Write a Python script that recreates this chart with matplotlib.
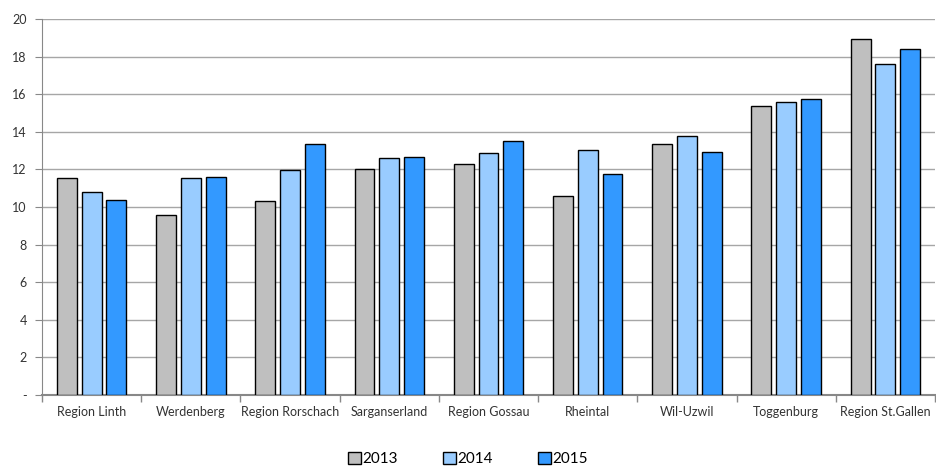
import numpy as np
import matplotlib
matplotlib.use("Agg")
import matplotlib.pyplot as plt

# Data
regions = ["Region Linth", "Werdenberg", "Region Rorschach", "Sarganserland",
           "Region Gossau", "Rheintal", "Wil-Uzwil", "Toggenburg", "Region St.Gallen"]
years = ["2013", "2014", "2015"]
v2013 = [11.56, 9.57, 10.30, 12.02, 12.30, 10.60, 13.33, 15.36, 18.95]
v2014 = [10.78, 11.53, 11.98, 12.62, 12.85, 13.01, 13.78, 15.59, 17.61]
v2015 = [10.36, 11.61, 13.33, 12.68, 13.51, 11.77, 12.91, 15.73, 18.39]
yticks = [0, 2, 4, 6, 8, 10, 12, 14, 16, 18, 20]
ytick_labels = ["-", "2", "4", "6", "8", "10", "12", "14", "16", "18", "20"]

colors = ["#BFBFBF", "#99CCFF", "#3399FF"]

plt.rcParams["font.family"] = ["Lato", "DejaVu Sans"]

fig = plt.figure(figsize=(9.36, 4.67), dpi=100)
ax = fig.add_axes([42 / 936, 1 - 395 / 467, 893 / 936, 376 / 467])

x = np.arange(len(regions))
width = 0.2
step = 0.25
for i, (vals, year) in enumerate(zip([v2013, v2014, v2015], years)):
    ax.bar(x + (i - 1) * step, vals, width, color=colors[i], edgecolor="black",
           linewidth=1.0, label=year, zorder=3)

ax.set_ylim(0, 20)
ax.set_xlim(-0.5, len(regions) - 0.5)
ax.set_yticks(yticks)
ax.set_yticklabels(ytick_labels)
ax.yaxis.grid(True, color="#A6A6A6", linewidth=1.0, zorder=0)
ax.set_axisbelow(True)

ax.set_xticks(x)
ax.set_xticklabels(regions)
ax.set_xticks(np.arange(len(regions) + 1) - 0.5, minor=True)
ax.tick_params(axis="x", which="major", length=0, labelsize=9, colors="#333333", pad=8)
ax.tick_params(axis="x", which="minor", length=5, color="#888888", width=1)
ax.tick_params(axis="y", length=5, color="#888888", labelsize=9, labelcolor="#333333", pad=6)

for s in ["top", "right"]:
    ax.spines[s].set_visible(False)
ax.spines["left"].set_color("#888888")
ax.spines["bottom"].set_color("#888888")
ax.spines["bottom"].set_linewidth(1.5)

fig.legend(loc="center", ncol=3, frameon=False, fontsize=11,
           bbox_to_anchor=(0.5, 1 - 459 / 467), handlelength=0.8, handleheight=0.8,
           handletextpad=0.1, columnspacing=3.0, borderpad=0.1)

fig.savefig("out.png", dpi=100)
